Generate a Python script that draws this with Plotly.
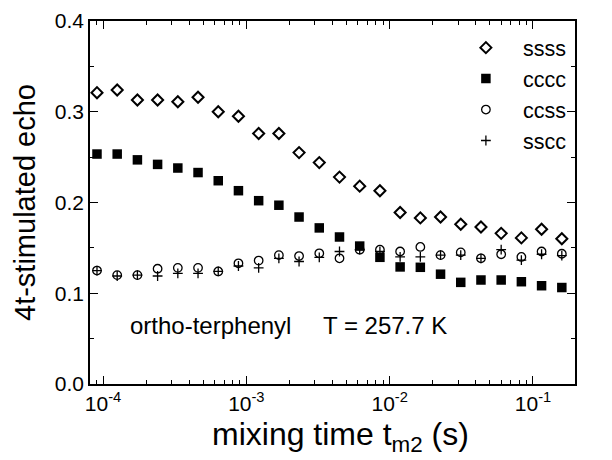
import plotly.graph_objects as go

# mixing times (s)
t_mix = [9.08e-5, 1.256e-4, 1.738e-4, 2.404e-4, 3.327e-4, 4.603e-4, 6.368e-4, 8.81e-4,
         1.219e-3, 1.687e-3, 2.333e-3, 3.228e-3, 4.467e-3, 6.18e-3, 8.551e-3, 1.183e-2,
         1.637e-2, 2.265e-2, 3.133e-2, 4.335e-2, 5.998e-2, 8.299e-2, 0.1148, 0.1589]

ssss = [0.321, 0.324, 0.313, 0.313, 0.311, 0.316, 0.300, 0.295, 0.276, 0.276, 0.255, 0.244,
        0.228, 0.218, 0.213, 0.189, 0.183, 0.184, 0.176, 0.173, 0.166, 0.161, 0.1705, 0.160]
cccc = [0.2534, 0.2534, 0.247, 0.242, 0.238, 0.233, 0.224, 0.213, 0.202, 0.197, 0.184, 0.172,
        0.162, 0.152, 0.1396, 0.129, 0.1286, 0.121, 0.112, 0.1146, 0.1146, 0.1127, 0.1083, 0.1063]
ccss = [0.125, 0.120, 0.120, 0.127, 0.128, 0.128, 0.124, 0.133, 0.136, 0.142, 0.141, 0.144,
        0.1385, 0.148, 0.148, 0.146, 0.151, 0.142, 0.145, 0.1385, 0.143, 0.140, 0.146, 0.1435]
sscc = [0.125, 0.119, 0.120, 0.119, 0.122, 0.122, 0.124, 0.130, 0.128, 0.1385, 0.135, 0.1396,
        0.146, 0.148, 0.146, 0.140, 0.140, 0.142, 0.142, 0.1385, 0.148, 0.1366, 0.143, 0.1415]

series_names = ["ssss", "cccc", "ccss", "sscc"]
x_tickvals = [1e-4, 1e-3, 1e-2, 1e-1]
x_ticktext = ["10<sup>-4</sup>", "10<sup>-3</sup>", "10<sup>-2</sup>", "10<sup>-1</sup>"]
y_tickvals = [0.0, 0.1, 0.2, 0.3, 0.4]

FONT = "Liberation Sans, Arial, sans-serif"

styles = [
    dict(symbol="diamond-open", size=8.5, color="black", line=dict(width=2, color="black")),
    dict(symbol="square", size=9.5, color="black", line=dict(width=0)),
    dict(symbol="circle-open", size=8.5, color="black", line=dict(width=1.3, color="black")),
    dict(symbol="cross-thin-open", size=7, color="black", line=dict(width=1.3, color="black")),
]

fig = go.Figure()
for i, (name, vals) in enumerate(zip(series_names, [ssss, cccc, ccss, sscc])):
    fig.add_trace(go.Scatter(x=t_mix, y=vals, mode="markers", name=name,
                             marker=styles[i], legendgroup=name))

axis_common = dict(showline=True, linecolor="black", linewidth=1.5, mirror="allticks",
                   ticks="inside", tickcolor="black", tickwidth=1.2, showgrid=False,
                   zeroline=False, automargin=False,
                   tickfont=dict(family=FONT, size=21, color="black"))

fig.update_xaxes(type="log", range=[-4.0907, -0.7069], tickvals=x_tickvals, ticktext=x_ticktext,
                 ticklen=8,
                 minor=dict(ticks="inside", ticklen=4, tickcolor="black", tickwidth=1,
                            dtick="D1", showgrid=False),
                 **axis_common)
fig.update_yaxes(range=[0, 0.4], tickvals=y_tickvals, tickformat=".1f", ticklen=8,
                 minor=dict(ticks="inside", ticklen=4, tickcolor="black", tickwidth=1,
                            dtick=0.05, showgrid=False),
                 title=dict(text="4t-stimulated echo",
                            font=dict(family=FONT, size=29, color="black"), standoff=11),
                 **axis_common)

# x-axis title
fig.add_annotation(xref="paper", yref="paper", x=0.5175, y=-0.146, xanchor="center",
                   yanchor="middle", text="mixing time t<sub>m2</sub> (s)", showarrow=False,
                   font=dict(family=FONT, size=32, color="black"))

fig.add_annotation(xref="paper", yref="paper", x=0.078, y=0.16, xanchor="left", yanchor="middle",
                   text="ortho-terphenyl", showarrow=False,
                   font=dict(family=FONT, size=24, color="black"))
fig.add_annotation(xref="paper", yref="paper", x=0.608, y=0.16, xanchor="center", yanchor="middle",
                   text="T = 257.7 K", showarrow=False,
                   font=dict(family=FONT, size=24, color="black"))

fig.update_layout(
    width=612, height=460,
    margin=dict(l=90, r=37, t=21, b=76),
    paper_bgcolor="white", plot_bgcolor="white",
    showlegend=True,
    legend=dict(x=0.740, y=0.983, xanchor="left", yanchor="top", bgcolor="rgba(0,0,0,0)",
                font=dict(family=FONT, size=21.5, color="black"), tracegroupgap=0,
                itemwidth=64),
)

fig.write_html("out.html", config={"displayModeBar": False},
               post_script="document.body.style.margin='0px';")
